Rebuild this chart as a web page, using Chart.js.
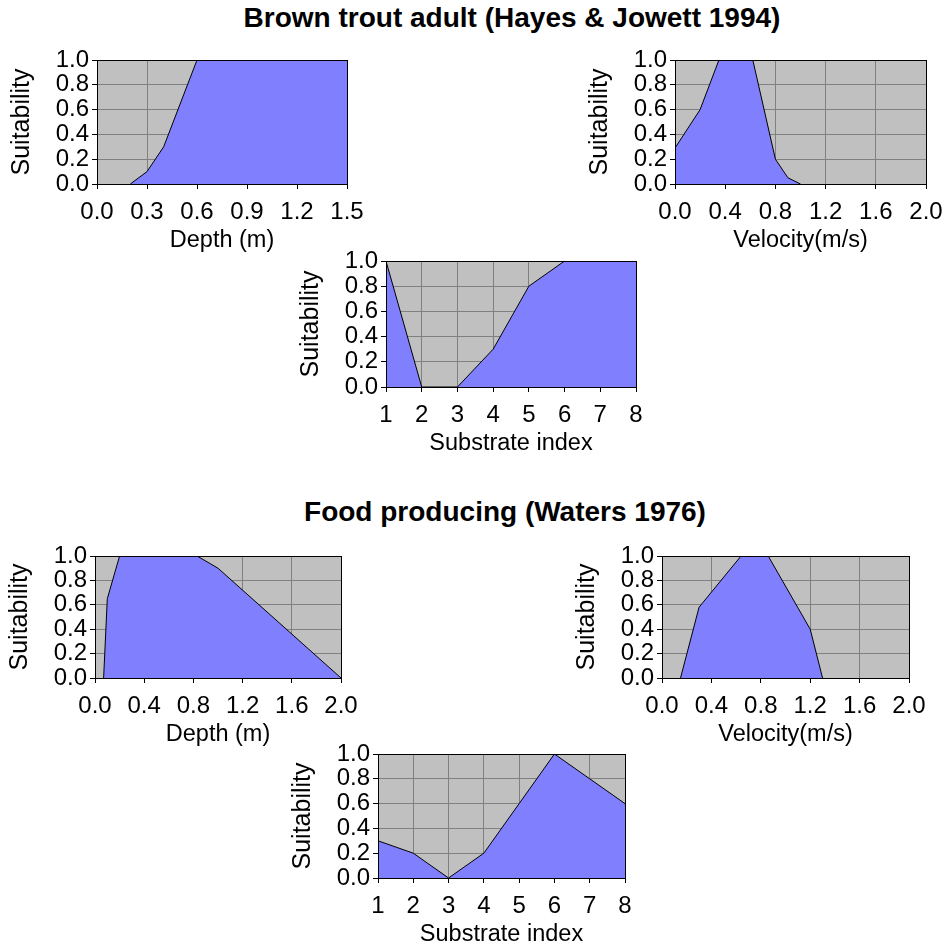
<!DOCTYPE html>
<html>
<head>
<meta charset="utf-8">
<script src="https://cdn.jsdelivr.net/npm/chart.js@4.4.1/dist/chart.umd.min.js"></script>
<style>
  html, body { margin: 0; padding: 0; background: #fff; width: 944px; height: 945px; overflow: hidden; position: relative; }
  canvas { position: absolute; }
  .heading {
    position: absolute; transform: translateX(-50%); white-space: nowrap;
    font-family: "Liberation Sans", Arial, sans-serif; font-weight: bold;
    font-size: 28px; line-height: 28px; color: #000;
  }
</style>
</head>
<body>
<div class="heading" style="left:512px; top:4px;">Brown trout adult (Hayes &amp; Jowett 1994)</div>
<div class="heading" style="left:505px; top:498px;">Food producing (Waters 1976)</div>
<canvas id="troutDepthChart"></canvas>
<canvas id="troutVelocityChart"></canvas>
<canvas id="troutSubstrateChart"></canvas>
<canvas id="foodDepthChart"></canvas>
<canvas id="foodVelocityChart"></canvas>
<canvas id="foodSubstrateChart"></canvas>
<script>
// Tick values
const suitabilityTicks = [0, 0.2, 0.4, 0.6, 0.8, 1.0];
const troutDepthTicks = [0, 0.3, 0.6, 0.9, 1.2, 1.5];
const velocityTicks = [0, 0.4, 0.8, 1.2, 1.6, 2.0];
const foodDepthTicks = [0, 0.4, 0.8, 1.2, 1.6, 2.0];
const substrateTicks = [1, 2, 3, 4, 5, 6, 7, 8];

// Brown trout adult (Hayes & Jowett 1994)
const troutDepth = [0.2, 0.3, 0.4, 0.6, 1.5];
const troutDepthSuit = [0, 0.1, 0.3, 1.0, 1.0];
const troutVelocity = [0, 0.2, 0.35, 0.62, 0.8, 0.9, 1.0];
const troutVelocitySuit = [0.29, 0.6, 1.0, 1.0, 0.2, 0.05, 0];
const troutSubstrate = [1, 2, 3, 4, 5, 6, 7, 8];
const troutSubstrateSuit = [1.0, 0, 0, 0.3, 0.8, 1.0, 1.0, 1.0];

// Food producing (Waters 1976)
const foodDepth = [0.07, 0.1, 0.2, 0.83, 1.0, 1.5, 2.0];
const foodDepthSuit = [0, 0.65, 1.0, 1.0, 0.9, 0.45, 0];
const foodVelocity = [0.15, 0.3, 0.64, 0.86, 1.2, 1.3];
const foodVelocitySuit = [0, 0.58, 1.0, 1.0, 0.4, 0];
const foodSubstrate = [1, 2, 3, 4, 5, 6, 7, 8];
const foodSubstrateSuit = [0.3, 0.2, 0, 0.2, 0.6, 1.0, 0.8, 0.6];

const FONT = "'Liberation Sans', Arial, sans-serif";
Chart.defaults.font.family = FONT;
Chart.defaults.color = '#000';

// Panel geometry around each plot area
const AXIS_W = 96, PAD_TOP = 14, PAD_RIGHT = 30, XAXIS_H = 70;

// Grey plot background and black frame around the plot area
const plotFrame = {
  id: 'plotFrame',
  beforeDraw(chart) {
    const a = chart.chartArea, ctx = chart.ctx;
    ctx.save();
    ctx.fillStyle = '#C0C0C0';
    ctx.fillRect(a.left, a.top, a.right - a.left, a.bottom - a.top);
    ctx.restore();
  },
  afterDraw(chart) {
    const a = chart.chartArea, ctx = chart.ctx;
    const l = Math.round(a.left), t = Math.round(a.top), r = Math.round(a.right), b = Math.round(a.bottom);
    ctx.save();
    ctx.strokeStyle = '#000';
    ctx.lineWidth = 1;
    ctx.strokeRect(l + 0.5, t + 0.5, r - l, b - t);
    ctx.restore();
  }
};

function panel(id, box, xs, ys, xTicks, xTitle, decimals) {
  const canvas = document.getElementById(id);
  const w = AXIS_W + box.w + PAD_RIGHT;
  const h = PAD_TOP + box.h + XAXIS_H;
  canvas.width = w; canvas.height = h;
  canvas.style.width = w + 'px'; canvas.style.height = h + 'px';
  canvas.style.left = (box.x - AXIS_W) + 'px';
  canvas.style.top = (box.y - PAD_TOP) + 'px';

  return new Chart(canvas, {
    type: 'line',
    data: {
      datasets: [{
        data: xs.map((x, i) => ({ x: x, y: ys[i] })),
        fill: 'origin',
        backgroundColor: '#8080FF',
        borderColor: '#000',
        borderWidth: 1,
        pointRadius: 0,
        tension: 0
      }]
    },
    options: {
      responsive: false,
      animation: false,
      devicePixelRatio: 1,
      layout: { padding: { top: PAD_TOP, right: PAD_RIGHT, left: 0, bottom: 0 } },
      plugins: { legend: { display: false }, tooltip: { enabled: false } },
      scales: {
        x: {
          type: 'linear',
          min: xTicks[0],
          max: xTicks[xTicks.length - 1],
          afterBuildTicks: s => { s.ticks = xTicks.map(v => ({ value: v })); },
          afterFit: s => { s.height = XAXIS_H; },
          grid: { color: '#808080', lineWidth: 1, tickLength: 5, tickColor: '#000' },
          border: { display: true, color: '#000', width: 1 },
          ticks: {
            padding: 11, color: '#000', maxRotation: 0, autoSkip: false,
            font: { family: FONT, size: 24, lineHeight: 1 },
            callback: v => Number(v).toFixed(decimals)
          },
          title: {
            display: true, text: xTitle, color: '#000',
            font: { family: FONT, size: 23.5, lineHeight: 1 },
            padding: { top: 0, bottom: 2 }
          }
        },
        y: {
          type: 'linear',
          min: 0,
          max: 1,
          afterBuildTicks: s => { s.ticks = suitabilityTicks.map(v => ({ value: v })); },
          afterFit: s => { s.width = AXIS_W; },
          grid: { color: '#808080', lineWidth: 1, tickLength: 5, tickColor: '#000' },
          border: { display: true, color: '#000', width: 1 },
          ticks: {
            padding: 3, color: '#000', autoSkip: false,
            font: { family: FONT, size: 24, lineHeight: 1 },
            callback: v => Number(v).toFixed(1)
          },
          title: {
            display: true, text: 'Suitability', color: '#000',
            font: { family: FONT, size: 25, lineHeight: 1 },
            padding: { top: 8.5, bottom: 0 }
          }
        }
      }
    },
    plugins: [plotFrame]
  });
}

panel('troutDepthChart',     { x: 97,  y: 59,  w: 250, h: 125 }, troutDepth, troutDepthSuit, troutDepthTicks, 'Depth (m)', 1);
panel('troutVelocityChart',  { x: 675, y: 59,  w: 251, h: 125 }, troutVelocity, troutVelocitySuit, velocityTicks, 'Velocity(m/s)', 1);
panel('troutSubstrateChart', { x: 386, y: 260, w: 250, h: 127 }, troutSubstrate, troutSubstrateSuit, substrateTicks, 'Substrate index', 0);
panel('foodDepthChart',      { x: 95,  y: 555, w: 246, h: 123 }, foodDepth, foodDepthSuit, foodDepthTicks, 'Depth (m)', 1);
panel('foodVelocityChart',   { x: 662, y: 555, w: 247, h: 123 }, foodVelocity, foodVelocitySuit, velocityTicks, 'Velocity(m/s)', 1);
panel('foodSubstrateChart',  { x: 378, y: 753, w: 247, h: 125 }, foodSubstrate, foodSubstrateSuit, substrateTicks, 'Substrate index', 0);
</script>
</body>
</html>
